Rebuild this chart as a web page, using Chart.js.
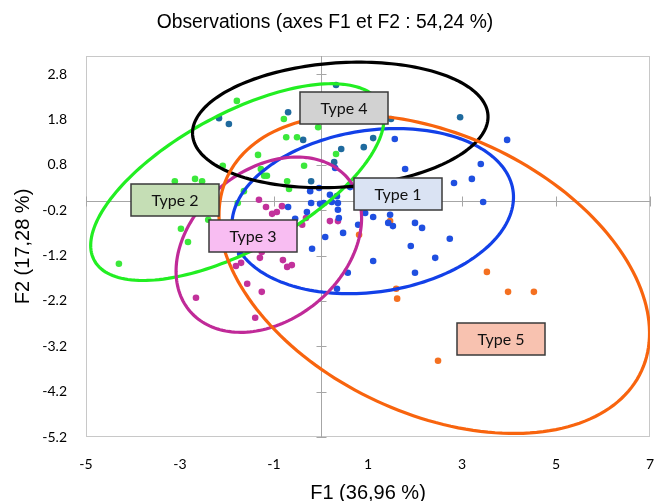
<!DOCTYPE html>
<html>
<head>
<meta charset="utf-8">
<script src="https://cdn.jsdelivr.net/npm/chart.js@4.4.1/dist/chart.umd.min.js"></script>
<style>
html,body{margin:0;padding:0;background:#ffffff;}
#wrap{width:656px;height:501px;position:relative;}
</style>
</head>
<body>
<div id="wrap"><canvas id="c" width="656" height="501"></canvas></div>
<script>
// ---- tick labels ----
const xTicks = [-5, -3, -1, 1, 3, 5, 7];
const yTicks = [-5.2, -4.2, -3.2, -2.2, -1.2, -0.2, 0.8, 1.8, 2.8];

// ---- observations (F1, F2) ----
const type1X = [1.57, 3.96, 1.79, 3.40, 2.83, 3.21, 3.45, 0.30, 0.62, -0.23, -0.04, 0.19, 0.34, 0.23, 0.36, 0.36, 0.06, -0.21, -0.02, -0.70, -0.30, -0.55, 0.38, 0.94, 1.11, 1.47, 1.43, 1.53, 0.79, 2.00, 2.15, 0.47, 0.09, 2.74, 1.91, 2.43, 1.11, 0.57, 2.00, 0.34, -0.19, -1.72];
const type1Y = [1.37, 1.35, 0.71, 0.82, 0.40, 0.49, -0.02, 0.73, 0.31, 0.22, 0.29, 0.14, 0.11, -0.02, -0.04, -0.19, -0.04, -0.04, -0.06, -0.13, -0.24, -0.39, -0.37, -0.26, -0.35, -0.30, -0.48, -0.55, -0.52, -0.48, -0.59, -0.70, -0.79, -0.83, -0.99, -1.25, -1.32, -1.58, -1.58, -1.93, -1.05, -1.16];

const type2X = [-1.79, -0.79, -0.74, -0.51, -0.06, -1.34, -0.36, -2.09, -1.28, -1.21, -1.15, -0.72, -0.68, -1.64, -1.77, -3.11, -2.68, -2.53, -2.98, -2.83, -4.30, -2.40, 0.32];
const type2Y = [2.21, 1.81, 1.41, 1.41, 1.63, 1.02, 0.78, 0.78, 0.71, 0.56, 0.56, 0.44, 0.27, 0.22, -0.04, 0.44, 0.49, 0.44, -0.61, -0.90, -1.38, -0.41, 1.04];

const type3X = [-1.32, -1.17, -1.04, -0.94, -0.83, -0.40, -0.32, 0.19, 0.36, -1.30, -1.26, -1.70, -1.81, -0.81, -0.72, -0.62, -1.57, -1.26, -2.66, -1.40];
const type3Y = [0.03, -0.13, -0.28, -0.24, -0.11, -0.52, -0.37, -0.44, -0.44, -1.25, -1.12, -1.36, -1.43, -1.30, -1.45, -1.41, -1.82, -2.00, -2.13, -2.57];

const type4X = [-2.17, -1.96, -0.70, -0.38, -0.21, 0.32, 1.49, 2.96, 1.11, 0.91, 0.43, 0.28];
const type4Y = [1.83, 1.70, 1.96, 1.35, 0.44, 2.56, 1.81, 1.85, 1.39, 1.19, 1.15, 0.86];

const type5X = [1.47, 0.81, 1.60, 1.62, 3.53, 3.98, 4.53, 2.49];
const type5Y = [-0.44, -0.74, -1.93, -2.15, -1.56, -2.00, -2.00, -3.52];

// ---- confidence ellipses (centre, semi-axes, rotation in degrees) ----
const ellipseCX = [1.10, -1.78, -1.11, 0.41, 2.41];
const ellipseCY = [-0.22, 0.42, -0.96, 1.68, -1.61];
const ellipseA  = [3.02, 3.50, 2.23, 3.15, 4.90];
const ellipseB  = [1.78, 1.48, 1.63, 1.37, 3.05];
const ellipseRot = [9, 30, 43, 4, -27];

// ---- group labels ----
const labelText = ['Type 1', 'Type 2', 'Type 3', 'Type 4', 'Type 5'];
const labelX = [1.64, -3.11, -1.45, 0.49, 3.84];
const labelY = [0.165, 0.02, -0.77, 2.05, -3.05];

// ---- styles ----
const pointColors = ['#1f4fe0', '#3be83b', '#c2319b', '#1f6a9e', '#f47020'];
const ellipseColors = ['#1240e8', '#22ee22', '#c02a98', '#000000', '#f8640e'];
const labelFill = ['#dae3f3', '#c5deb5', '#f8bdf2', '#d2d2d2', '#f8c2b0'];

function pts(xs, ys) { return xs.map((x, i) => ({x: x, y: ys[i]})); }
const seriesX = [type1X, type2X, type3X, type4X, type5X];
const seriesY = [type1Y, type2Y, type3Y, type4Y, type5Y];

const datasets = labelText.map((name, i) => ({
  label: name,
  data: pts(seriesX[i], seriesY[i]),
  backgroundColor: pointColors[i],
  borderWidth: 0,
  pointRadius: 3.3,
  pointHoverRadius: 3.3
}));

const decorPlugin = {
  id: 'decor',
  beforeDatasetsDraw(chart) {
    const {ctx, chartArea: ca, scales: {x, y}} = chart;
    ctx.save();
    ctx.strokeStyle = '#c8c8c8';
    ctx.lineWidth = 1;
    ctx.strokeRect(ca.left + 0.5, ca.top + 0.5, ca.right - ca.left - 1, ca.bottom - ca.top - 1);
    const x0 = Math.round(x.getPixelForValue(0)) + 0.5;
    const y0 = Math.round(y.getPixelForValue(0)) + 0.5;
    ctx.strokeStyle = '#a6a6a6';
    ctx.beginPath();
    ctx.moveTo(x0, ca.top); ctx.lineTo(x0, ca.bottom);
    ctx.moveTo(ca.left, y0); ctx.lineTo(ca.right, y0);
    yTicks.forEach(v => {
      const py = Math.round(y.getPixelForValue(v)) + 0.5;
      ctx.moveTo(x0 - 5, py); ctx.lineTo(x0 + 5, py);
    });
    xTicks.forEach(v => {
      const px = Math.round(x.getPixelForValue(v)) + 0.5;
      ctx.moveTo(px, y0 - 5); ctx.lineTo(px, y0 + 5);
    });
    ctx.stroke();
    ctx.restore();
  },
  afterDatasetsDraw(chart) {
    const {ctx, chartArea: ca, scales: {x, y}} = chart;
    ctx.save();
    ctx.beginPath();
    ctx.rect(ca.left, ca.top, ca.right - ca.left, ca.bottom - ca.top);
    ctx.clip();
    ellipseCX.forEach((cx, i) => {
      const th = ellipseRot[i] * Math.PI / 180;
      const c = Math.cos(th), s = Math.sin(th);
      ctx.beginPath();
      for (let k = 0; k <= 180; k++) {
        const t = k / 180 * 2 * Math.PI;
        const dx = ellipseA[i] * Math.cos(t) * c - ellipseB[i] * Math.sin(t) * s;
        const dy = ellipseA[i] * Math.cos(t) * s + ellipseB[i] * Math.sin(t) * c;
        const px = x.getPixelForValue(cx + dx);
        const py = y.getPixelForValue(ellipseCY[i] + dy);
        if (k === 0) ctx.moveTo(px, py); else ctx.lineTo(px, py);
      }
      ctx.closePath();
      ctx.strokeStyle = ellipseColors[i];
      ctx.lineWidth = 3.2;
      ctx.stroke();
    });
    ctx.restore();
    ctx.save();
    const w = 88, h = 32;
    ctx.font = '16px Lato, "Liberation Sans", sans-serif';
    ctx.textAlign = 'center';
    ctx.textBaseline = 'middle';
    labelText.forEach((t, i) => {
      const px = Math.round(x.getPixelForValue(labelX[i]));
      const py = Math.round(y.getPixelForValue(labelY[i]));
      ctx.fillStyle = labelFill[i];
      ctx.fillRect(px - w / 2, py - h / 2, w, h);
      ctx.strokeStyle = '#3a3a3a';
      ctx.lineWidth = 1.5;
      ctx.strokeRect(px - w / 2, py - h / 2, w, h);
      ctx.fillStyle = '#111111';
      ctx.fillText(t, px, py + 1);
    });
    ctx.restore();
  }
};

const tickFont = {family: 'Lato, "Liberation Sans", sans-serif', size: 14};

new Chart(document.getElementById('c'), {
  type: 'scatter',
  data: {datasets: datasets},
  options: {
    responsive: false,
    animation: false,
    devicePixelRatio: 1,
    layout: {padding: {left: 0, right: 6, top: 0, bottom: 0}},
    plugins: {
      legend: {display: false},
      tooltip: {enabled: false},
      title: {
        display: true,
        text: 'Observations (axes F1 et F2 : 54,24 %)',
        color: '#000000',
        font: {family: '"Liberation Sans", Arial, sans-serif', size: 19.3, weight: 'normal'},
        padding: {top: 11, bottom: 21.84}
      }
    },
    scales: {
      x: {
        type: 'linear',
        min: -5, max: 7,
        afterBuildTicks: s => { s.ticks = xTicks.map(v => ({value: v})); },
        afterFit: s => { s.height = 64; s.paddingLeft = 0; s.paddingRight = 0; },
        ticks: {font: tickFont, color: '#000000', padding: 19, maxRotation: 0, callback: v => String(v)},
        grid: {display: false, drawTicks: false},
        border: {display: false},
        title: {
          display: true,
          text: 'F1 (36,96 %)',
          color: '#000000',
          font: {family: '"Liberation Sans", Arial, sans-serif', size: 20, lineHeight: 1},
          padding: {top: 0, bottom: -2}
        }
      },
      y: {
        type: 'linear',
        min: -5.2, max: 3.2,
        afterBuildTicks: s => { s.ticks = yTicks.map(v => ({value: v})); },
        afterFit: s => { s.width = 86; s.paddingTop = 0; s.paddingBottom = 0; },
        ticks: {font: tickFont, color: '#000000', padding: 19, callback: v => Number(v).toFixed(1)},
        grid: {display: false, drawTicks: false},
        border: {display: false},
        title: {
          display: true,
          text: 'F2 (17,28 %)',
          color: '#000000',
          font: {family: '"Liberation Sans", Arial, sans-serif', size: 20, lineHeight: 1},
          padding: {top: 13, bottom: 0}
        }
      }
    }
  },
  plugins: [decorPlugin]
});
</script>
</body>
</html>
